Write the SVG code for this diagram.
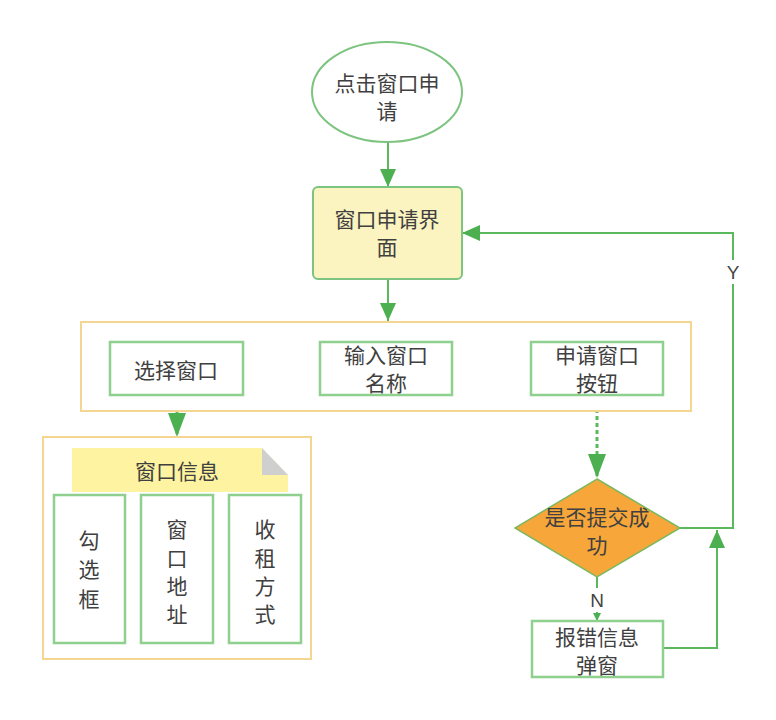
<svg xmlns="http://www.w3.org/2000/svg" width="776" height="720" viewBox="0 0 776 720">
<style>
.t{font-family:"Noto Sans CJK SC","Noto Sans",sans-serif;font-size:21px;fill:#404040;text-anchor:middle;dominant-baseline:central}
.l{font-family:"Liberation Sans","Noto Sans",sans-serif;font-size:19px;fill:#444;text-anchor:middle;dominant-baseline:central}
.c{fill:none;stroke:#5cb85c;stroke-width:2}
.d{stroke-width:3;stroke-dasharray:4 3}
.bx{fill:#fff;stroke:#8fd08f;stroke-width:2.5}
.ct{fill:#fff;stroke:#f5d592;stroke-width:2}
</style>
<defs>
<marker id="a" markerUnits="userSpaceOnUse" markerWidth="18" markerHeight="16" refX="18" refY="8" orient="auto"><path d="M0,0 L18,8 L0,16 Z" fill="#4cb050"/></marker>
<marker id="b" markerUnits="userSpaceOnUse" markerWidth="24" markerHeight="18" refX="24" refY="9" orient="auto"><path d="M0,0 L24,9 L0,18 Z" fill="#4cb050"/></marker>
<marker id="s" markerUnits="userSpaceOnUse" markerWidth="8" markerHeight="8" refX="8" refY="4" orient="auto"><path d="M0,0 L8,4 L0,8 Z" fill="#4cb050"/></marker>
</defs>
<rect width="776" height="720" fill="#fff"/>
<g id="connectors">
<path class="c" d="M388,142 V187" marker-end="url(#a)"/>
<path class="c" d="M388,279 V321" marker-end="url(#a)"/>
<path class="c d" d="M177,395 V437" marker-end="url(#b)"/>
<path class="c d" d="M597,395 V478" marker-end="url(#b)"/>
<path class="c" d="M680,528 H733 V233 H462" marker-end="url(#a)"/>
<path class="c" d="M597,577 V621" marker-end="url(#s)"/>
<path class="c" d="M663,648 H717 V530" marker-end="url(#a)"/>
<rect x="722" y="260" width="22" height="24" fill="#fff"/>
<text class="l" x="733" y="272">Y</text>
<rect x="587" y="588" width="20" height="24" fill="#fff"/>
<text class="l" x="597" y="600">N</text>
</g>
<g id="start">
<ellipse cx="387" cy="92" rx="75" ry="50" fill="#fff" stroke="#7cc47f" stroke-width="2"/>
<text class="t"><tspan x="387" y="82">点击窗口申</tspan><tspan x="387" y="110">请</tspan></text>
</g>
<g id="apply-ui">
<rect x="313" y="187" width="149" height="92" rx="5" fill="#fcf4c0" stroke="#7cc47f" stroke-width="2"/>
<text class="t"><tspan x="387" y="218">窗口申请界</tspan><tspan x="387" y="246">面</tspan></text>
</g>
<g id="form">
<rect class="ct" x="81" y="322" width="610" height="89"/>
</g>
<g id="select">
<rect class="bx" x="110" y="342" width="133" height="53"/>
<text class="t" x="176" y="369">选择窗口</text>
</g>
<g id="name">
<rect class="bx" x="320" y="342" width="132" height="53"/>
<text class="t"><tspan x="386" y="354">输入窗口</tspan><tspan x="386" y="382">名称</tspan></text>
</g>
<g id="submit-btn">
<rect class="bx" x="531" y="342" width="132" height="53"/>
<text class="t"><tspan x="597" y="354">申请窗口</tspan><tspan x="597" y="382">按钮</tspan></text>
</g>
<g id="info">
<rect class="ct" x="43" y="437" width="268" height="222"/>
<path d="M72,448 H262 L288,475 V492 H72 Z" fill="#fdf3a0"/>
<path d="M262,448 V475 H288 Z" fill="#cfcfcf"/>
<text class="t" x="177" y="470">窗口信息</text>
</g>
<g id="checkbox">
<rect class="bx" x="54" y="495" width="71" height="148"/>
<text class="t"><tspan x="89" y="539">勾</tspan><tspan x="89" y="568">选</tspan><tspan x="89" y="598">框</tspan></text>
</g>
<g id="address">
<rect class="bx" x="141" y="495" width="72" height="148"/>
<text class="t"><tspan x="177" y="528">窗</tspan><tspan x="177" y="557">口</tspan><tspan x="177" y="585">地</tspan><tspan x="177" y="613">址</tspan></text>
</g>
<g id="rent">
<rect class="bx" x="229" y="495" width="72" height="148"/>
<text class="t"><tspan x="265" y="528">收</tspan><tspan x="265" y="557">租</tspan><tspan x="265" y="585">方</tspan><tspan x="265" y="613">式</tspan></text>
</g>
<g id="decision">
<path d="M597,479 L680,528 L597,577 L515,528 Z" fill="#f7a73a" stroke="#7cb860" stroke-width="1.5"/>
<text class="t"><tspan x="597" y="516">是否提交成</tspan><tspan x="597" y="544">功</tspan></text>
</g>
<g id="error">
<rect class="bx" x="532" y="621" width="131" height="56"/>
<text class="t"><tspan x="597" y="636">报错信息</tspan><tspan x="597" y="664">弹窗</tspan></text>
</g>
</svg>
